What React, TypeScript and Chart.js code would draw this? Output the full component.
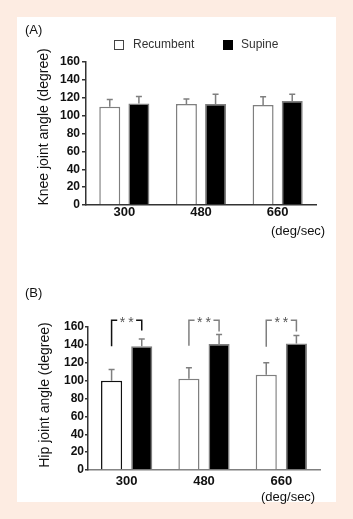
import React, { useEffect, useRef } from "react";
import { Chart, registerables } from "chart.js";

Chart.register(...registerables);

const FONT = "'Liberation Sans', Arial, Helvetica, sans-serif";
const PAGE_BG = "#fdece2";
const GRAY = "#7f7f7f";

// ---- data ----
const categories = ["300", "480", "660"];
const seriesNames = ["Recumbent", "Supine"];
const unitLabel = "(deg/sec)";
const yMin = 0;
const yMax = 160;
const yStep = 20;

const kneeRecumbent = [110, 113, 112];
const kneeRecumbentErr = [8, 5.5, 9];
const kneeSupine = [113.5, 113, 116.5];
const kneeSupineErr = [8, 11, 7.5];

const hipRecumbent = [100, 102, 106.5];
const hipRecumbentErr = [12.5, 12.5, 13.5];
const hipSupine = [138.5, 141, 141.5];
const hipSupineErr = [8, 10.5, 9];

const hipSigLabels = ["**", "**", "**"];
const hipBracketTop = [167.5, 167.5, 167.5];
const hipBracketLeft = [138.5, 139, 138];
const hipBracketRight = [156, 155, 155];

type Bracket = { text: string; top: number; left: number; right: number; color: string };

type PanelProps = {
  left: number;
  top: number;
  width: number;
  height: number;
  label: string;
  labelX: number;
  labelY: number;
  yTitle: string;
  titleX: number;
  titleY: number;
  unitX: number;
  unitY: number;
  rec: number[];
  recErr: number[];
  sup: number[];
  supErr: number[];
  recBorder: string[];
  yWidth: number;
  xHeight: number;
  padTop: number;
  padRight: number;
  catPct: number;
  barPct: number;
  tickLen: number;
  tickPad: number;
  xPad: number;
  xAxisColor: string;
  yAxisColor: string;
  showLegend: boolean;
  brackets: Bracket[];
};

function Panel(p: PanelProps) {
  const ref = useRef<HTMLCanvasElement>(null);
  useEffect(() => {
    const canvas = ref.current;
    if (!canvas) return;
    const errs = [p.recErr, p.supErr];
    const decor = {
      id: "decor",
      afterDatasetsDraw(chart: any) {
        const ctx = chart.ctx;
        const ys = chart.scales.y;
        errs.forEach((errList, di) => {
          const meta = chart.getDatasetMeta(di);
          meta.data.forEach((bar: any, j: number) => {
            const val = chart.data.datasets[di].data[j] as number;
            const topPx = ys.getPixelForValue(val + errList[j]);
            ctx.save();
            ctx.strokeStyle = GRAY;
            ctx.lineWidth = 1.5;
            ctx.beginPath();
            ctx.moveTo(bar.x, bar.y);
            ctx.lineTo(bar.x, topPx);
            ctx.moveTo(bar.x - 3, topPx);
            ctx.lineTo(bar.x + 3, topPx);
            ctx.stroke();
            ctx.restore();
          });
        });
      },
      afterDraw(chart: any) {
        const ctx = chart.ctx;
        const ys = chart.scales.y;
        ctx.save();
        // panel label
        ctx.fillStyle = "#111";
        ctx.font = `13px ${FONT}`;
        ctx.textAlign = "left";
        ctx.textBaseline = "middle";
        ctx.fillText(p.label, p.labelX, p.labelY);
        // unit
        ctx.fillText(unitLabel, p.unitX, p.unitY);
        // y title
        ctx.save();
        ctx.font = `14px ${FONT}`;
        ctx.translate(p.titleX, p.titleY);
        ctx.rotate(-Math.PI / 2);
        ctx.textAlign = "center";
        ctx.fillText(p.yTitle, 0, 0);
        ctx.restore();
        // legend
        if (p.showLegend) {
          ctx.font = `12px ${FONT}`;
          ctx.fillStyle = "#fff";
          ctx.fillRect(97, 23, 9, 9);
          ctx.strokeStyle = "#444";
          ctx.lineWidth = 1;
          ctx.strokeRect(97.5, 23.5, 9, 9);
          ctx.fillStyle = "#333";
          ctx.fillText(seriesNames[0], 116, 28);
          ctx.fillStyle = "#000";
          ctx.fillRect(206, 23, 10, 10);
          ctx.fillStyle = "#333";
          ctx.fillText(seriesNames[1], 224, 28);
        }
        // significance brackets
        const m0 = chart.getDatasetMeta(0);
        const m1 = chart.getDatasetMeta(1);
        p.brackets.forEach((b, j) => {
          const x1 = m0.data[j].x;
          const x2 = m1.data[j].x;
          const yT = ys.getPixelForValue(b.top);
          const yL = ys.getPixelForValue(b.left);
          const yR = ys.getPixelForValue(b.right);
          ctx.strokeStyle = b.color;
          ctx.lineWidth = 1.5;
          ctx.beginPath();
          ctx.moveTo(x1, yL);
          ctx.lineTo(x1, yT);
          ctx.lineTo(x2, yT);
          ctx.lineTo(x2, yR);
          ctx.stroke();
          const cx = (x1 + x2) / 2;
          ctx.font = `14px ${FONT}`;
          (ctx as any).letterSpacing = "3px";
          const tw = ctx.measureText(b.text).width;
          ctx.fillStyle = "#fff";
          ctx.fillRect(cx - tw / 2 - 1, yT - 3, tw + 2, 6);
          ctx.fillStyle = "#555";
          ctx.textAlign = "center";
          ctx.textBaseline = "alphabetic";
          ctx.fillText(b.text, cx + 1.5, yT + 7);
          (ctx as any).letterSpacing = "0px";
        });
        ctx.restore();
      },
    };
    const chart = new Chart(canvas, {
      type: "bar",
      data: {
        labels: categories,
        datasets: [
          {
            label: seriesNames[0],
            data: p.rec,
            backgroundColor: "#ffffff",
            borderColor: p.recBorder,
            borderWidth: 1.5,
            categoryPercentage: p.catPct,
            barPercentage: p.barPct,
          },
          {
            label: seriesNames[1],
            data: p.sup,
            backgroundColor: "#000000",
            borderColor: GRAY,
            borderWidth: 1.5,
            categoryPercentage: p.catPct,
            barPercentage: p.barPct,
          },
        ],
      },
      options: {
        responsive: false,
        animation: false,
        events: [],
        layout: { padding: { left: 0, right: p.padRight, top: p.padTop, bottom: 0 } },
        plugins: { legend: { display: false }, tooltip: { enabled: false } },
        scales: {
          x: {
            grid: { display: false, drawTicks: false },
            border: { display: true, color: p.xAxisColor, width: 1.5 },
            ticks: {
              font: { family: FONT, size: 13, weight: "bold" },
              color: "#111",
              padding: p.xPad,
            },
            afterFit: (s: any) => {
              s.height = p.xHeight;
            },
          },
          y: {
            min: yMin,
            max: yMax,
            ticks: {
              stepSize: yStep,
              font: { family: FONT, size: 12, weight: "bold" },
              color: "#111",
              padding: p.tickPad,
            },
            grid: {
              drawOnChartArea: false,
              drawTicks: true,
              tickLength: p.tickLen,
              color: p.yAxisColor,
              lineWidth: 1.5,
            },
            border: { display: true, color: p.yAxisColor, width: 1.5 },
            afterFit: (s: any) => {
              s.width = p.yWidth;
            },
          },
        },
      } as any,
      plugins: [decor],
    });
    return () => chart.destroy();
  }, []);
  return (
    <canvas
      ref={ref}
      width={p.width}
      height={p.height}
      style={{ position: "absolute", left: p.left, top: p.top, display: "block" }}
    />
  );
}

export default function App() {
  const hipBrackets: Bracket[] = hipSigLabels.map((t, i) => ({
    text: t,
    top: hipBracketTop[i],
    left: hipBracketLeft[i],
    right: hipBracketRight[i],
    color: i === 0 ? "#111" : GRAY,
  }));
  return (
    <div
      style={{
        position: "absolute",
        left: 0,
        top: 0,
        width: 353,
        height: 519,
        background: PAGE_BG,
        overflow: "hidden",
      }}
    >
      <div
        style={{
          position: "absolute",
          left: 17,
          top: 17,
          width: 319,
          height: 485,
          background: "#ffffff",
        }}
      />
      <Panel
        left={17}
        top={17}
        width={319}
        height={228}
        label="(A)"
        labelX={8}
        labelY={13}
        yTitle="Knee joint angle (degree)"
        titleX={27}
        titleY={110}
        unitX={254}
        unitY={214}
        rec={kneeRecumbent}
        recErr={kneeRecumbentErr}
        sup={kneeSupine}
        supErr={kneeSupineErr}
        recBorder={[GRAY, GRAY, GRAY]}
        yWidth={69}
        xHeight={40}
        padTop={45}
        padRight={20}
        catPct={0.76}
        barPct={0.72}
        tickLen={4}
        tickPad={2}
        xPad={0}
        xAxisColor="#333"
        yAxisColor="#333"
        showLegend={true}
        brackets={[]}
      />
      <Panel
        left={17}
        top={255}
        width={319}
        height={250}
        label="(B)"
        labelX={8}
        labelY={38}
        yTitle="Hip joint angle (degree)"
        titleX={28}
        titleY={140}
        unitX={244}
        unitY={242}
        rec={hipRecumbent}
        recErr={hipRecumbentErr}
        sup={hipSupine}
        supErr={hipSupineErr}
        recBorder={["#111", GRAY, GRAY]}
        yWidth={71}
        xHeight={35}
        padTop={72}
        padRight={16}
        catPct={0.78}
        barPct={0.7}
        tickLen={3}
        tickPad={1}
        xPad={4}
        xAxisColor={GRAY}
        yAxisColor="#333"
        showLegend={false}
        brackets={hipBrackets}
      />
    </div>
  );
}
